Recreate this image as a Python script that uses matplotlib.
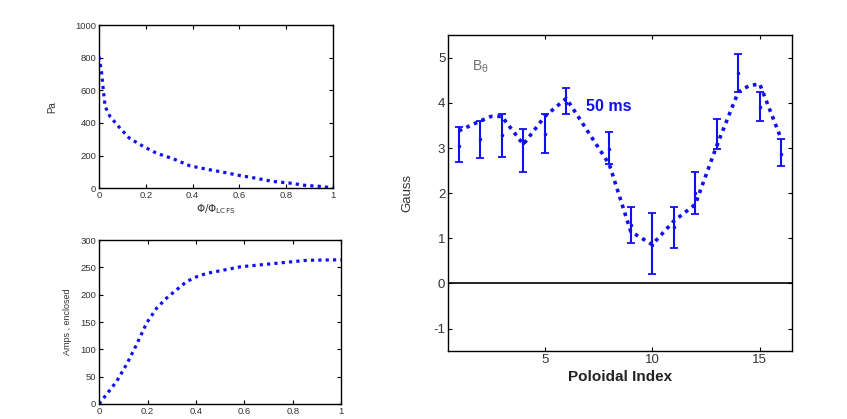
import matplotlib
matplotlib.use("Agg")
import matplotlib.pyplot as plt

plt.rcParams['font.family'] = ['Liberation Sans', 'DejaVu Sans']
plt.rcParams['axes.unicode_minus'] = False

# --- Pressure profile (top-left) ---
psi_p = [0.0, 0.011, 0.018, 0.026, 0.047, 0.09, 0.13, 0.19, 0.246, 0.317, 0.388,
         0.46, 0.53, 0.60, 0.67, 0.744, 0.815, 0.886, 0.957, 1.0]
pa = [806, 704, 602, 500, 439, 367, 306, 255, 214, 180, 137,
      116, 98, 78, 61, 41, 31, 16, 10, 0]

# --- Enclosed current (bottom-left) ---
psi_i = [0.0, 0.01, 0.03, 0.072, 0.113, 0.154, 0.196, 0.237, 0.279, 0.32, 0.361,
         0.403, 0.444, 0.513, 0.582, 0.651, 0.72, 0.789, 0.858, 1.0]
amps = [0, 6, 17, 41, 72, 108, 148, 175, 194, 209, 224,
        233, 239, 245, 251, 254, 257, 260, 263, 264]

# --- B_theta vs poloidal index (right) ---
idx = [1, 2, 3, 4, 5, 6, 8, 9, 10, 11, 12, 13, 14, 15, 16]
b_lo = [2.68, 2.77, 2.80, 2.47, 2.89, 3.76, 2.64, 0.90, 0.21, 0.79, 1.53, 2.98, 4.24, 3.59, 2.60]
b_hi = [3.47, 3.60, 3.76, 3.42, 3.76, 4.34, 3.35, 1.69, 1.57, 1.69, 2.47, 3.64, 5.08, 4.25, 3.20]
b_mid = [3.05, 3.20, 3.28, 3.12, 3.31, 3.99, 2.98, 1.30, 0.86, 1.25, 2.00, 3.10, 4.66, 3.92, 2.87]

fit_x = [1, 2, 2.5, 3, 4, 5, 6, 8, 9, 10, 11, 12, 13, 14, 14.5, 15, 16]
fit_y = [3.38, 3.60, 3.70, 3.70, 3.08, 3.70, 4.10, 2.64, 1.15, 0.86, 1.38, 1.75, 3.05, 4.24, 4.38, 4.42, 3.20]

blue = '#1010f0'
txt = '#333333'
dots = (0, (1.0, 1.3))

fig = plt.figure(figsize=(8.47, 4.19), dpi=100)

def style(ax, fs):
    ax.tick_params(direction='in', top=True, right=True, length=3,
                   labelsize=fs, labelcolor=txt, pad=2, width=0.8)
    for s in ax.spines.values():
        s.set_linewidth(1.0)

ax1 = fig.add_axes([0.117, 0.551, 0.276, 0.389])
ax1.plot(psi_p, pa, color=blue, linestyle=dots, linewidth=2.3)
ax1.set_xlim(0, 1)
ax1.set_ylim(0, 1000)
ax1.set_xticks([0, 0.2, 0.4, 0.6, 0.8, 1])
ax1.set_xticklabels(['0', '0.2', '0.4', '0.6', '0.8', '1'])
ax1.set_yticks([0, 200, 400, 600, 800, 1000])
style(ax1, 6.8)
ax1.set_ylabel('Pa', fontsize=7, color=txt, labelpad=13)
ax1.set_xlabel(r'$\mathrm{\Phi/\Phi_{LCFS}}$', fontsize=7.5, color=txt, labelpad=2)

ax2 = fig.add_axes([0.117, 0.036, 0.286, 0.391])
ax2.plot(psi_i, amps, color=blue, linestyle=dots, linewidth=2.3)
ax2.set_xlim(0, 1)
ax2.set_ylim(0, 300)
ax2.set_xticks([0, 0.2, 0.4, 0.6, 0.8, 1])
ax2.set_xticklabels(['0', '0.2', '0.4', '0.6', '0.8', '1'])
ax2.set_yticks([0, 50, 100, 150, 200, 250, 300])
style(ax2, 6.8)
ax2.set_ylabel('Amps , enclosed', fontsize=6.5, color=txt, labelpad=6)

ax3 = fig.add_axes([0.529, 0.162, 0.406, 0.754])
ax3.axhline(0, color='black', linewidth=1.2)
ax3.plot(fit_x, fit_y, color=blue, linestyle=dots, linewidth=2.6)
yerr = [[m - l for m, l in zip(b_mid, b_lo)], [h - m for m, h in zip(b_mid, b_hi)]]
ax3.errorbar(idx, b_mid, yerr=yerr, fmt='.', color=blue, markersize=3,
             elinewidth=1.5, capsize=3, capthick=1.3)
ax3.set_xlim(0.5, 16.5)
ax3.set_ylim(-1.5, 5.5)
ax3.set_xticks([5, 10, 15])
ax3.set_yticks([-1, 0, 1, 2, 3, 4, 5])
style(ax3, 9.5)
ax3.set_ylabel('Gauss', fontsize=9.5, color=txt, labelpad=14)
ax3.set_xlabel('Poloidal Index', fontsize=11, fontweight='bold', color='#222222', labelpad=3)
ax3.text(1.6, 4.8, r'B$_{\mathrm{\theta}}$', fontsize=10, color='#707070', va='center', ha='left')
ax3.text(6.9, 3.92, '50 ms', fontsize=11.5, fontweight='bold', color=blue, va='center', ha='left')

fig.savefig('out.png', dpi=100)
